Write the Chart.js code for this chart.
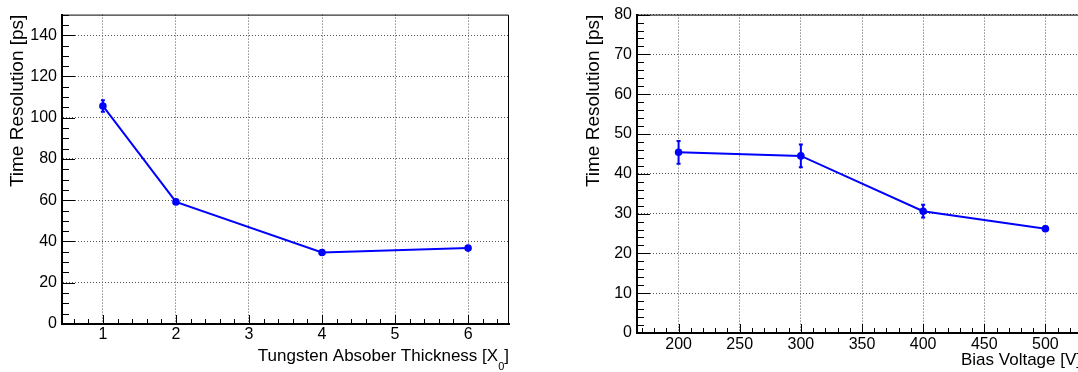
<!DOCTYPE html>
<html>
<head>
<meta charset="utf-8">
<script src="https://cdn.jsdelivr.net/npm/chart.js@4"></script>
<style>
  html, body { margin: 0; padding: 0; background: #fff; overflow: hidden; width: 1078px; height: 372px; }
  #left { position: absolute; left: 0; top: 0; }
  #right { position: absolute; left: 540px; top: 0; }
</style>
</head>
<body>
<canvas id="left" width="540" height="372"></canvas>
<canvas id="right" width="560" height="372"></canvas>
<script>
// left panel: time resolution vs tungsten absorber thickness
const thickness = [1, 2, 4, 6];
const thicknessRes = [105.7, 59.2, 34.7, 36.8];
const thicknessErr = [2.8, 0.8, 0.7, 0.8];

// right panel: time resolution vs bias voltage
const bias = [200, 300, 400, 500];
const biasRes = [45.4, 44.5, 30.6, 26.2];
const biasErr = [2.85, 2.85, 1.6, 0.6];

const yTitle = 'Time Resolution [ps]';
const leftXTitle = 'Tungsten Absober Thickness [X';
const leftXSub = '0';
const leftXEnd = ']';
const rightXTitle = 'Bias Voltage [V]';

const FONT = '"Liberation Sans", Arial, Helvetica, sans-serif';
const BLUE = '#0000ff';

// ROOT-like frame, inward ticks, error bars and axis titles
const rootStyle = {
  id: 'rootStyle',
  afterDatasetsDraw(chart, args, o) {
    const {ctx, scales: {x, y}} = chart;
    ctx.save();
    ctx.strokeStyle = BLUE;
    ctx.lineWidth = 2;
    ctx.beginPath();
    o.xs.forEach((xv, i) => {
      const px = x.getPixelForValue(xv);
      const top = y.getPixelForValue(o.ys[i] + o.errs[i]);
      const bot = y.getPixelForValue(o.ys[i] - o.errs[i]);
      ctx.moveTo(px, top); ctx.lineTo(px, bot);
      ctx.moveTo(px - 2, top); ctx.lineTo(px + 2, top);
      ctx.moveTo(px - 2, bot); ctx.lineTo(px + 2, bot);
    });
    ctx.stroke();
    ctx.restore();
  },
  afterDraw(chart, args, o) {
    const {ctx, chartArea: a, scales: {x, y}} = chart;
    ctx.save();
    ctx.strokeStyle = '#000';
    ctx.lineWidth = 1;
    ctx.beginPath();
    ctx.moveTo(a.left, a.top + 0.5);
    ctx.lineTo(a.right - 0.5, a.top + 0.5);
    ctx.lineTo(a.right - 0.5, a.bottom);
    ctx.stroke();

    const ticks = (scale, minor, major, isX, majLen, minLen) => {
      const first = Math.ceil(scale.min / minor - 1e-6);
      const last = Math.floor(scale.max / minor + 1e-6);
      for (let i = first; i <= last; i++) {
        const v = i * minor;
        const isMajor = Math.abs(v / major - Math.round(v / major)) < 1e-6;
        const len = isMajor ? majLen : minLen;
        const p = Math.round(scale.getPixelForValue(v)) + 0.5;
        if (isX) { ctx.moveTo(p, a.bottom); ctx.lineTo(p, a.bottom - len); }
        else { ctx.moveTo(a.left, p); ctx.lineTo(a.left + len, p); }
      }
    };
    ctx.beginPath();
    ticks(x, o.xMinor, o.xMajor, true, 9, 5);
    ticks(y, o.yMinor, o.yMajor, false, 13, 7);
    ctx.stroke();

    // titles
    ctx.fillStyle = '#000';
    ctx.font = '19px ' + FONT;
    ctx.save();
    ctx.translate(o.yTitleX, a.top);
    ctx.rotate(-Math.PI / 2);
    ctx.textAlign = 'right';
    ctx.textBaseline = 'alphabetic';
    ctx.fillText(yTitle, 0, 0);
    ctx.restore();

    ctx.font = '17px ' + FONT;
    ctx.textAlign = 'left';
    ctx.textBaseline = 'alphabetic';
    const w1 = ctx.measureText(o.xTitle).width;
    let w0 = 0, w2 = 0;
    if (o.xSub) {
      ctx.font = '11px ' + FONT;
      w0 = ctx.measureText(o.xSub).width;
      ctx.font = '17px ' + FONT;
      w2 = ctx.measureText(o.xEnd).width;
    }
    let sx = a.right - (w1 + w0 + w2) + o.xTitleShift;
    ctx.fillText(o.xTitle, sx, o.xTitleBase);
    if (o.xSub) {
      ctx.font = '11px ' + FONT;
      ctx.fillText(o.xSub, sx + w1, o.xTitleBase + 9);
      ctx.font = '17px ' + FONT;
      ctx.fillText(o.xEnd, sx + w1 + w0, o.xTitleBase);
    }
    ctx.restore();
  }
};

function scaleOpts(min, max, step, fitKey, fitVal, pad) {
  return {
    type: 'linear',
    min: min,
    max: max,
    afterFit: (s) => { s[fitKey] = fitVal; },
    grid: { color: '#555', lineWidth: 1, drawTicks: false },
    border: { display: true, color: '#000', width: 2, dash: [1, 2] },
    ticks: {
      stepSize: step,
      includeBounds: false,
      autoSkip: false,
      maxRotation: 0,
      padding: pad,
      color: '#000',
      font: { family: FONT, size: 16 }
    }
  };
}

function makeChart(id, xs, ys, errs, xScale, yScale, padding, style) {
  return new Chart(document.getElementById(id), {
    type: 'line',
    data: {
      datasets: [{
        data: xs.map((v, i) => ({ x: v, y: ys[i] })),
        borderColor: BLUE,
        backgroundColor: BLUE,
        borderWidth: 2,
        pointRadius: 2.8,
        pointBackgroundColor: BLUE,
        pointBorderColor: BLUE,
        tension: 0,
        fill: false
      }]
    },
    options: {
      responsive: false,
      animation: false,
      layout: { padding: padding },
      plugins: {
        legend: { display: false },
        tooltip: { enabled: false },
        rootStyle: Object.assign({ xs: xs, ys: ys, errs: errs }, style)
      },
      scales: { x: xScale, y: yScale }
    },
    plugins: [rootStyle]
  });
}

makeChart('left', thickness, thicknessRes, thicknessErr,
  scaleOpts(0.44, 6.56, 1, 'height', 48, 1),
  scaleOpts(0, 150, 20, 'width', 62, 5),
  { left: 0, top: 10, right: 31, bottom: 0 },
  { xMinor: 0.2, xMajor: 1, yMinor: 5, yMajor: 20, yTitleX: 23,
    xTitle: leftXTitle, xSub: leftXSub, xEnd: leftXEnd, xTitleBase: 361, xTitleShift: 0 });

makeChart('right', bias, biasRes, biasErr,
  scaleOpts(166, 534, 50, 'height', 39, 2),
  scaleOpts(0, 80, 10, 'width', 97, 5),
  { left: 0, top: 10, right: 13, bottom: 0 },
  { xMinor: 10, xMajor: 50, yMinor: 2, yMajor: 10, yTitleX: 59,
    xTitle: rightXTitle, xSub: null, xEnd: null, xTitleBase: 365, xTitleShift: -6 });
</script>
</body>
</html>
